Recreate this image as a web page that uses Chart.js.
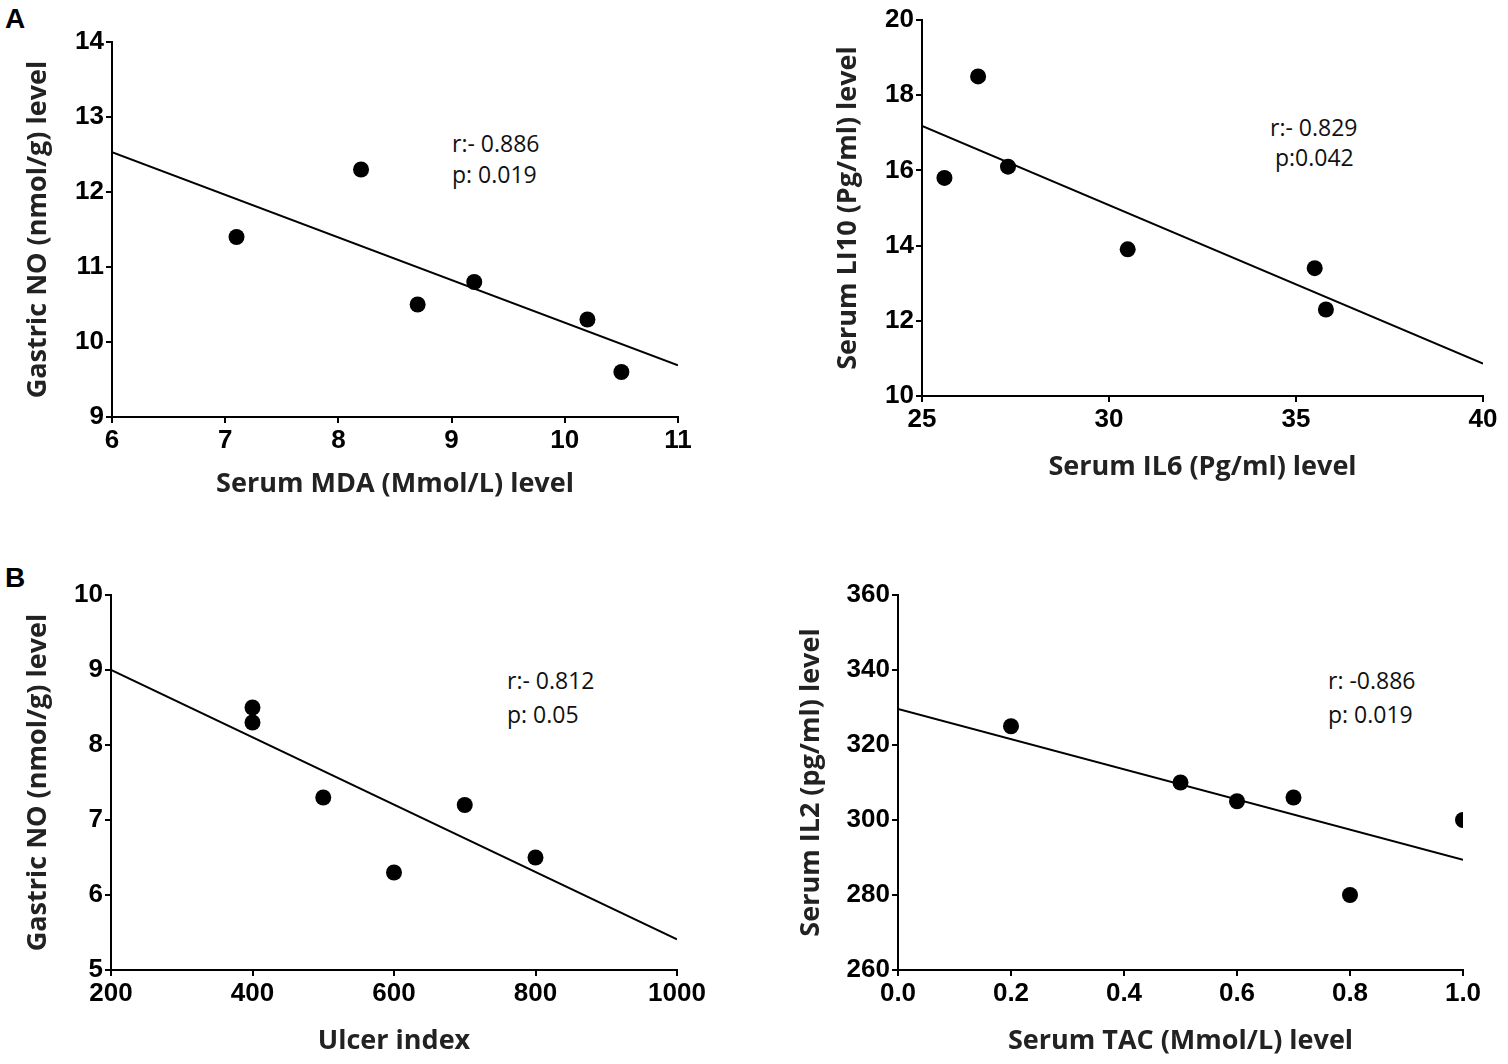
<!DOCTYPE html>
<html>
<head>
<meta charset="utf-8">
<script src="https://cdn.jsdelivr.net/npm/chart.js@4.4.1/dist/chart.umd.min.js"></script>
<style>
  html, body { margin: 0; padding: 0; background: #fff; }
  body { width: 1508px; height: 1064px; position: relative; overflow: hidden; }
  canvas { position: absolute; }
  .lbl { position: absolute; font-family: "Liberation Sans", Arial, sans-serif; font-weight: bold; font-size: 28px; line-height: 28px; color: #000; }
  .note { position: absolute; font-family: "Open Sans", sans-serif; font-size: 23px; line-height: 23px; color: #111; white-space: pre; }
</style>
</head>
<body>
<div class="lbl" style="left:5px;top:5px;">A</div>
<div class="lbl" style="left:5px;top:564px;">B</div>

<div class="note" style="left:452px;top:132px;">r:- 0.886</div>
<div class="note" style="left:452px;top:163px;">p: 0.019</div>
<div class="note" style="left:1270px;top:116px;">r:- 0.829</div>
<div class="note" style="left:1275px;top:146px;">p:0.042</div>
<div class="note" style="left:507px;top:669px;">r:- 0.812</div>
<div class="note" style="left:507px;top:703px;">p: 0.05</div>
<div class="note" style="left:1328px;top:669px;">r: -0.886</div>
<div class="note" style="left:1328px;top:703px;">p: 0.019</div>

<canvas id="c1"></canvas>
<canvas id="c2"></canvas>
<canvas id="c3"></canvas>
<canvas id="c4"></canvas>

<script>
// panel A left: gastric NO vs serum MDA
const mdaLevel = [7.1, 8.2, 8.7, 9.2, 10.2, 10.5];
const gastricNoA = [11.4, 12.3, 10.5, 10.8, 10.3, 9.6];
const fitMdaX = [6, 11];
const fitMdaY = [12.53, 9.69];

// panel A right: serum IL10 vs serum IL6
const il6Level = [25.6, 26.5, 27.3, 30.5, 35.5, 35.8];
const il10Level = [15.8, 18.5, 16.1, 13.9, 13.4, 12.3];
const fitIl6X = [25, 40];
const fitIl6Y = [17.18, 10.86];

// panel B left: gastric NO vs ulcer index
const ulcerIndex = [400, 400, 500, 600, 700, 800];
const gastricNoB = [8.5, 8.3, 7.3, 6.3, 7.2, 6.5];
const fitUlcerX = [200, 1000];
const fitUlcerY = [9.0, 5.41];

// panel B right: serum IL2 vs serum TAC
const tacLevel = [0.2, 0.5, 0.6, 0.7, 0.8, 1.0];
const il2Level = [325, 310, 305, 306, 280, 300];
const fitTacX = [0, 1];
const fitTacY = [329.6, 289.4];

const tickFont = { family: '"Liberation Sans", Arial, sans-serif', size: 26, weight: 'bold' };
const titleFont = { family: '"Open Sans", sans-serif', size: 27, weight: 'bold' };

function pts(xs, ys) {
  return xs.map((x, i) => ({ x: x, y: ys[i] }));
}

function makePanel(id, box, plot, d) {
  const cv = document.getElementById(id);
  cv.width = box.w; cv.height = box.h;
  cv.style.left = box.x + 'px'; cv.style.top = box.y + 'px';

  const yw = plot.left - box.x;
  const xh = box.y + box.h - plot.bottom;

  const axis = (min, max, step, title, tpad, fmt) => ({
    type: 'linear', min: min, max: max,
    border: { display: true, color: '#000', width: 2 },
    grid: { display: true, drawOnChartArea: false, drawTicks: true, tickLength: 6, color: '#000', lineWidth: 2 },
    ticks: { stepSize: step, color: '#000', font: tickFont, padding: 2,
             callback: fmt || (v => String(v)) },
    title: { display: true, text: title, color: '#222', font: titleFont, padding: tpad }
  });

  const xs = axis(d.xMin, d.xMax, d.xStep, d.xTitle, { top: 0, bottom: d.xTitlePad }, d.xFmt);
  xs.afterFit = s => { s.height = xh; };
  const ys = axis(d.yMin, d.yMax, d.yStep, d.yTitle, { top: d.yTitlePad, bottom: 0 });
  ys.afterFit = s => { s.width = yw; };

  new Chart(cv, {
    type: 'scatter',
    data: {
      datasets: [
        { data: pts(d.px, d.py), backgroundColor: '#000', borderColor: '#000',
          pointRadius: 8, pointHoverRadius: 8, pointBorderWidth: 0 },
        { data: pts(d.fx, d.fy), showLine: true, borderColor: '#000', borderWidth: 2,
          pointRadius: 0, fill: false }
      ]
    },
    options: {
      responsive: false,
      animation: false,
      devicePixelRatio: 1,
      layout: {
        autoPadding: false,
        padding: { left: 0, top: plot.top - box.y, right: box.x + box.w - plot.right, bottom: 0 }
      },
      plugins: { legend: { display: false }, tooltip: { enabled: false } },
      scales: { x: xs, y: ys }
    }
  });
}

makePanel('c1', { x: 0, y: 0, w: 754, h: 520 }, { left: 112, right: 678, top: 42, bottom: 417 }, {
  px: mdaLevel, py: gastricNoA, fx: fitMdaX, fy: fitMdaY,
  xMin: 6, xMax: 11, xStep: 1, yMin: 9, yMax: 14, yStep: 1,
  xTitle: 'Serum MDA (Mmol/L) level', yTitle: 'Gastric NO (nmol/g) level',
  xTitlePad: 19, yTitlePad: 22
});

makePanel('c2', { x: 754, y: 0, w: 754, h: 520 }, { left: 922, right: 1483, top: 20, bottom: 396 }, {
  px: il6Level, py: il10Level, fx: fitIl6X, fy: fitIl6Y,
  xMin: 25, xMax: 40, xStep: 5, yMin: 10, yMax: 20, yStep: 2,
  xTitle: 'Serum IL6 (Pg/ml) level', yTitle: 'Serum LI10 (Pg/ml) level',
  xTitlePad: 36, yTitlePad: 78
});

makePanel('c3', { x: 0, y: 532, w: 754, h: 532 }, { left: 111, right: 677, top: 595, bottom: 970 }, {
  px: ulcerIndex, py: gastricNoB, fx: fitUlcerX, fy: fitUlcerY,
  xMin: 200, xMax: 1000, xStep: 200, yMin: 5, yMax: 10, yStep: 1,
  xTitle: 'Ulcer index', yTitle: 'Gastric NO (nmol/g) level',
  xTitlePad: 6, yTitlePad: 22
});

makePanel('c4', { x: 754, y: 532, w: 754, h: 532 }, { left: 898, right: 1463, top: 595, bottom: 970 }, {
  px: tacLevel, py: il2Level, fx: fitTacX, fy: fitTacY,
  xMin: 0, xMax: 1, xStep: 0.2, yMin: 260, yMax: 360, yStep: 20,
  xTitle: 'Serum TAC (Mmol/L) level', yTitle: 'Serum IL2 (pg/ml) level',
  xTitlePad: 6, yTitlePad: 41, xFmt: v => v.toFixed(1)
});
</script>
</body>
</html>
